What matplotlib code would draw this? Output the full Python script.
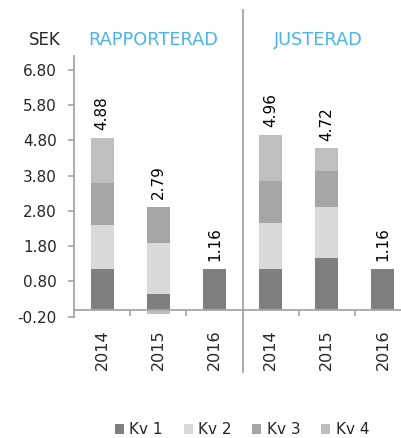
import matplotlib
matplotlib.use("Agg")
import matplotlib.pyplot as plt
import numpy as np

categories = ['2014', '2015', '2016', '2014', '2015', '2016']
kv1 = [1.15, 0.43, 1.16, 1.16, 1.47, 1.16]
kv2 = [1.26, 1.46, 0.00, 1.30, 1.45, 0.00]
kv3 = [1.19, 1.02, 0.00, 1.19, 1.00, 0.00]
kv4 = [1.28, -0.12, 0.00, 1.31, 0.66, 0.00]
value_labels = ['4.88', '2.79', '1.16', '4.96', '4.72', '1.16']
series_names = ['Kv 1', 'Kv 2', 'Kv 3', 'Kv 4']
group_titles = ['RAPPORTERAD', 'JUSTERAD']
yticks = [-0.2, 0.8, 1.8, 2.8, 3.8, 4.8, 5.8, 6.8]

colors = ['#7f7f7f', '#d9d9d9', '#a5a5a5', '#bfbfbf']
axis_gray = '#a6a6a6'
text_col = '#262626'
blue = '#4ab5e6'

plt.rcParams['font.family'] = ['DejaVu Sans']

W, H = 401, 438
fig = plt.figure(figsize=(W / 100, H / 100), dpi=100)
left_px, right_px = 74, 411
bot_px, top_px = 316.7, 55.8
ax = fig.add_axes([left_px / W, 1 - bot_px / H, (right_px - left_px) / W, (bot_px - top_px) / H])

x = np.arange(len(categories))
pos = np.zeros(len(x))
neg = np.zeros(len(x))
handles = []
for vals, c, name in zip([kv1, kv2, kv3, kv4], colors, series_names):
    v = np.array(vals)
    bottom = np.where(v >= 0, pos, neg)
    b = ax.bar(x, v, 0.41, bottom=bottom, color=c, label=name, zorder=2)
    handles.append(b)
    pos = pos + np.where(v > 0, v, 0)
    neg = neg + np.where(v < 0, v, 0)

for xi, top, lab in zip(x, pos, value_labels):
    ax.annotate(lab, (xi, top), xytext=(0, 5.5), textcoords='offset points',
                rotation=90, ha='center', va='bottom', fontsize=11, color='black')

ax.set_xlim(-0.5, 5.5)
ax.set_ylim(-0.2, 7.2)
ax.set_yticks(yticks)
ax.set_yticklabels([f'{t:.2f}' for t in yticks])
ax.set_xticks(x)
ax.set_xticklabels(categories)
ax.set_xticks(np.arange(0.5, 5.0, 1.0), minor=True)

for s in ['top', 'right']:
    ax.spines[s].set_visible(False)
ax.spines['bottom'].set_position(('data', 0))
for s in ['left', 'bottom']:
    ax.spines[s].set_color(axis_gray)
    ax.spines[s].set_linewidth(1.3)

ax.tick_params(axis='y', length=4, width=1.2, color=axis_gray, labelsize=11,
               labelcolor=text_col, pad=8.5)
ax.tick_params(axis='x', which='major', length=0, labelsize=11.5,
               labelcolor=text_col, pad=14, labelrotation=90)
ax.tick_params(axis='x', which='minor', length=4, width=1.2, color=axis_gray,
               direction='out')

# divider between groups
y_top = 1 + (top_px - 10) / (bot_px - top_px)
y_bot = -(372 - bot_px) / (bot_px - top_px)
ax.plot([2.5, 2.5], [y_top, y_bot], transform=ax.get_xaxis_transform(),
        color=axis_gray, lw=1.3, clip_on=False, zorder=3)

fig.text(44.5 / W, 1 - 40 / H, 'SEK', ha='center', va='center', fontsize=12, color=text_col)
fig.text(153 / W, 1 - 40 / H, group_titles[0], ha='center', va='center', fontsize=12.8, color=blue)
fig.text(318 / W, 1 - 40 / H, group_titles[1], ha='center', va='center', fontsize=12.8, color=blue)

fig.legend(handles=handles, labels=series_names, loc='center', ncol=4,
           bbox_to_anchor=(242 / W, 1 - 430 / H), frameon=False, fontsize=11,
           handlelength=0.6, handleheight=0.6, handletextpad=0.35,
           columnspacing=1.35, borderpad=0, labelcolor=text_col)

fig.savefig('out.png', dpi=100)
